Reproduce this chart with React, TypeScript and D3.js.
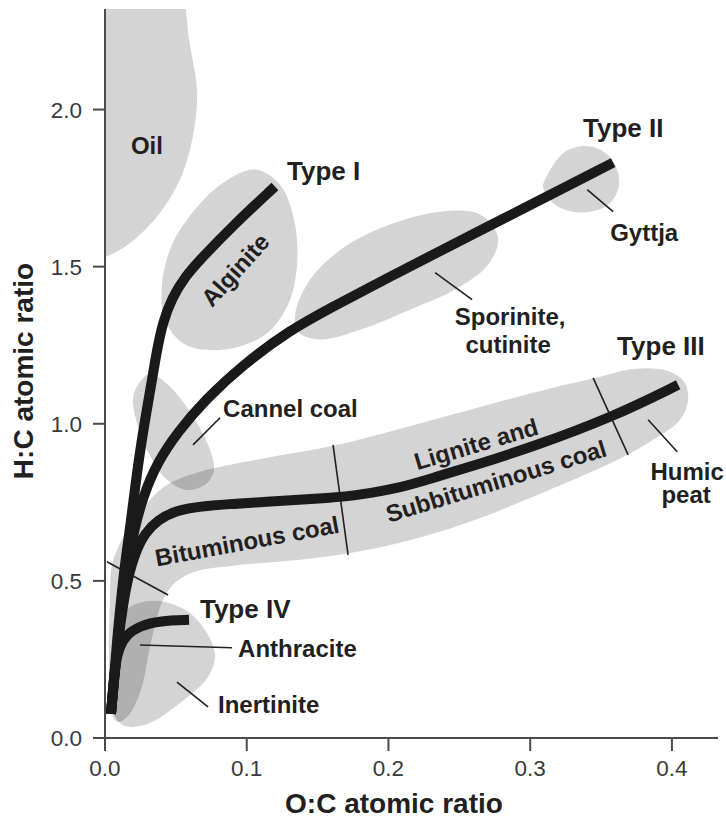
import React from 'react';
import * as d3 from 'd3';

type Pt = [number, number];

// ---- axis ticks ----
const xTicks: number[] = [0, 0.1, 0.2, 0.3, 0.4];
const yTicks: number[] = [0, 0.5, 1.0, 1.5, 2.0];

// ---- kerogen evolution paths (O:C, H:C) ----
const typeI: Pt[] = [
  [0.0042, 0.077], [0.0064, 0.185], [0.0085, 0.312], [0.0113, 0.439], [0.0141, 0.557],
  [0.0176, 0.662], [0.0233, 0.876], [0.0296, 1.048], [0.0332, 1.14], [0.0367, 1.236],
  [0.0409, 1.325], [0.0473, 1.401], [0.0565, 1.468], [0.067, 1.522], [0.0903, 1.631],
  [0.1199, 1.755],
];
const typeII: Pt[] = [
  [0.0042, 0.077], [0.0064, 0.185], [0.0092, 0.312], [0.0127, 0.439], [0.0162, 0.557],
  [0.0205, 0.662], [0.0268, 0.768], [0.0367, 0.876], [0.0515, 0.975], [0.0706, 1.076],
  [0.0974, 1.188], [0.1306, 1.299], [0.1609, 1.373], [0.1941, 1.452], [0.2646, 1.615],
  [0.3585, 1.831],
];
const typeIII: Pt[] = [
  [0.0042, 0.077], [0.0064, 0.185], [0.0092, 0.312], [0.0127, 0.424], [0.0162, 0.51],
  [0.0212, 0.589], [0.0282, 0.653], [0.0374, 0.694], [0.0494, 0.723], [0.067, 0.739],
  [0.1143, 0.752], [0.1609, 0.764], [0.18, 0.774], [0.2082, 0.796], [0.2315, 0.828],
  [0.2646, 0.873], [0.302, 0.927], [0.3585, 1.022], [0.4044, 1.124],
];
const typeIV: Pt[] = [
  [0.0042, 0.077], [0.0056, 0.153], [0.0071, 0.232], [0.0099, 0.287], [0.0148, 0.328],
  [0.0247, 0.357], [0.0388, 0.373], [0.0593, 0.376],
];

// ---- maceral / fuel regions (outlines) ----
const oilRegion: Pt[] = [
  [-0.007, 1.532], [0.0106, 1.554], [0.0318, 1.634], [0.0494, 1.745], [0.06, 1.873],
  [0.065, 2.048], [0.0593, 2.223], [0.0545, 2.37], [0.04, 2.48], [-0.007, 2.48],
];
const alginiteRegion: Pt[] = [
  [0.1059, 1.809], [0.1235, 1.761], [0.1334, 1.65], [0.1355, 1.506], [0.1291, 1.379],
  [0.1129, 1.283], [0.0847, 1.236], [0.0565, 1.252], [0.0423, 1.331], [0.0402, 1.443],
  [0.0473, 1.57], [0.0635, 1.682], [0.0847, 1.771],
];
const sporiniteRegion: Pt[] = [
  [0.1341, 1.347], [0.1447, 1.459], [0.1694, 1.564], [0.2011, 1.634], [0.2364, 1.675],
  [0.2646, 1.666], [0.2773, 1.592], [0.2703, 1.506], [0.247, 1.427], [0.2152, 1.363],
  [0.18, 1.299], [0.1517, 1.268], [0.1362, 1.293],
];
const gyttjaRegion: Pt[] = [
  [0.3105, 1.777], [0.3246, 1.866], [0.3437, 1.882], [0.3578, 1.841], [0.3627, 1.761],
  [0.355, 1.697], [0.3352, 1.672], [0.3176, 1.697], [0.3091, 1.752],
];
const cannelRegion: Pt[] = [
  [0.0233, 1.124], [0.0318, 1.159], [0.0445, 1.124], [0.06, 1.038], [0.0727, 0.933],
  [0.0769, 0.854], [0.0706, 0.806], [0.0565, 0.79], [0.0423, 0.828], [0.0303, 0.911],
  [0.0219, 1.013], [0.0198, 1.083],
];
const coalBand: Pt[] = [
  [0.0035, 0.439], [0.0049, 0.551], [0.012, 0.631], [0.0212, 0.694], [0.0318, 0.758],
  [0.0438, 0.806], [0.067, 0.847], [0.1143, 0.892], [0.1609, 0.93], [0.2315, 1.013],
  [0.302, 1.099], [0.3493, 1.15], [0.374, 1.175], [0.3966, 1.169], [0.4086, 1.134],
  [0.4114, 1.076], [0.4058, 1.013], [0.3846, 0.943], [0.3613, 0.885], [0.302, 0.768],
  [0.2555, 0.685], [0.2082, 0.621], [0.1729, 0.589], [0.1376, 0.567], [0.0903, 0.548],
  [0.0635, 0.529], [0.0501, 0.497], [0.0409, 0.439], [0.0325, 0.306], [0.0254, 0.153],
  [0.0162, 0.07], [0.0092, 0.051], [0.0042, 0.083], [0.0028, 0.248],
];
const inertiniteRegion: Pt[] = [
  [0.0092, 0.36], [0.0176, 0.417], [0.0367, 0.436], [0.0565, 0.408], [0.0706, 0.344],
  [0.0776, 0.264], [0.0727, 0.194], [0.0529, 0.111], [0.0303, 0.045], [0.0141, 0.038],
  [0.0056, 0.083], [0.0049, 0.185], [0.0064, 0.287],
];
const regions: Pt[][] = [
  oilRegion, alginiteRegion, sporiniteRegion, gyttjaRegion,
  cannelRegion, coalBand, inertiniteRegion,
];

// ---- rank boundaries across the coal band ----
const dividers: Pt[][] = [
  [[0.0014, 0.561], [0.0445, 0.455]],
  [[0.1609, 0.933], [0.1715, 0.583]],
  [[0.3444, 1.146], [0.3691, 0.901]],
];

// ---- leader lines ----
const leaders: Pt[][] = [
  [[0.0621, 0.933], [0.0812, 1.019]],
  [[0.3402, 1.745], [0.3585, 1.675]],
  [[0.2329, 1.481], [0.259, 1.395]],
  [[0.3832, 1.013], [0.4037, 0.911]],
  [[0.0247, 0.296], [0.0896, 0.287]],
  [[0.0508, 0.178], [0.0727, 0.099]],
];

// ---- labels ----
type Label = { text: string; at: Pt; anchor: 'start' | 'middle'; big?: boolean; rot?: number; center?: boolean };
const typeLabels: Label[] = [
  { text: 'Type I', at: [0.1284, 1.777], anchor: 'start', big: true },
  { text: 'Type II', at: [0.3373, 1.914], anchor: 'start', big: true },
  { text: 'Type III', at: [0.3613, 1.22], anchor: 'start', big: true },
  { text: 'Type IV', at: [0.067, 0.382], anchor: 'start', big: true },
];
const regionLabels: Label[] = [
  { text: 'Oil', at: [0.0296, 1.857], anchor: 'middle' },
  { text: 'Gyttja', at: [0.3564, 1.583], anchor: 'start' },
  { text: 'Sporinite,', at: [0.2858, 1.315], anchor: 'middle' },
  { text: 'cutinite', at: [0.2844, 1.226], anchor: 'middle' },
  { text: 'Cannel coal', at: [0.0833, 1.022], anchor: 'start' },
  { text: 'Humic', at: [0.4107, 0.822], anchor: 'middle' },
  { text: 'peat', at: [0.41, 0.748], anchor: 'middle' },
  { text: 'Anthracite', at: [0.0939, 0.258], anchor: 'start' },
  { text: 'Inertinite', at: [0.0797, 0.08], anchor: 'start' },
  { text: 'Alginite', at: [0.0918, 1.49], anchor: 'middle', rot: -48, center: true },
  { text: 'Lignite and', at: [0.2618, 0.936], anchor: 'middle', rot: -16.5, center: true },
  { text: 'Subbituminous coal', at: [0.2759, 0.818], anchor: 'middle', rot: -17, center: true },
  { text: 'Bituminous coal', at: [0.1002, 0.627], anchor: 'middle', rot: -10.5, center: true },
];

const FONT = "'Liberation Sans', Arial, Helvetica, sans-serif";
const INK = '#231f20';

export default function App() {
  const W = 726;
  const H = 818;
  const x = d3.scaleLinear().domain([0, 0.4325]).range([105, 718]);
  const y = d3.scaleLinear().domain([0, 2.32]).range([738, 9]);
  const [x0, x1] = x.range();
  const [y0, y1] = y.range();

  const blob = d3.line<Pt>().x(d => x(d[0])).y(d => y(d[1])).curve(d3.curveCatmullRomClosed.alpha(0.5));
  const path = d3.line<Pt>().x(d => x(d[0])).y(d => y(d[1])).curve(d3.curveBasis);
  const seg = d3.line<Pt>().x(d => x(d[0])).y(d => y(d[1]));
  const fmt = d3.format('.1f');

  const curves = [typeIV, typeIII, typeII, typeI];

  return (
    <svg width={W} height={H} style={{ position: 'absolute', left: 0, top: 0, background: '#fff' }} fontFamily={FONT}>
      <defs>
        <clipPath id="plotArea">
          <rect x={x0} y={y1} width={x1 - x0} height={y0 - y1} />
        </clipPath>
      </defs>
      <rect width={W} height={H} fill="#fff" />
      <g clipPath="url(#plotArea)">
        {regions.map((r, i) => (
          <path key={i} d={blob(r) || ''} fill="#000" fillOpacity={0.17} />
        ))}
      </g>
      {dividers.map((d, i) => (
        <path key={'dv' + i} d={seg(d) || ''} stroke={INK} strokeWidth={1.6} fill="none" />
      ))}
      {leaders.map((d, i) => (
        <path key={'ld' + i} d={seg(d) || ''} stroke={INK} strokeWidth={1.6} fill="none" />
      ))}
      {curves.map((c, i) => (
        <path key={'c' + i} d={path(c) || ''} stroke="#1a1a1a" strokeWidth={10} fill="none" strokeLinecap="butt" strokeLinejoin="round" />
      ))}

      {/* axes */}
      <g stroke="#4a4a4a" strokeWidth={2} fill="none">
        <line x1={x0} x2={x0} y1={y1} y2={y0 + 1} />
        <line x1={x0 - 12} x2={x1} y1={y0} y2={y0} />
        {yTicks.map(t => (
          <line key={'yt' + t} x1={x0 - 12} x2={x0} y1={y(t)} y2={y(t)} />
        ))}
        {xTicks.map(t => (
          <line key={'xt' + t} x1={x(t)} x2={x(t)} y1={y0} y2={y0 + 13} />
        ))}
      </g>
      <g fill="#3a3a3a" fontSize={22.5}>
        {yTicks.map(t => (
          <text key={'yl' + t} x={x0 - 23} y={y(t)} dy="0.36em" textAnchor="end">{fmt(t)}</text>
        ))}
        {xTicks.map(t => (
          <text key={'xl' + t} x={x(t)} y={776} textAnchor="middle">{fmt(t)}</text>
        ))}
      </g>
      <text x={394} y={813} textAnchor="middle" fontSize={28} fontWeight="bold" fill={INK}>O:C atomic ratio</text>
      <text transform="translate(33,371) rotate(-90)" textAnchor="middle" fontSize={28} fontWeight="bold" fill={INK}>H:C atomic ratio</text>

      {/* labels */}
      {typeLabels.concat(regionLabels).map((l, i) => {
        const px = x(l.at[0]);
        const py = y(l.at[1]);
        return (
          <text
            key={'lb' + i}
            transform={`translate(${px},${py})${l.rot ? ` rotate(${l.rot})` : ''}`}
            textAnchor={l.anchor}
            dy={l.center ? '0.36em' : undefined}
            fontSize={l.big ? 26 : 24}
            fontWeight="bold"
            fill={INK}
          >
            {l.text}
          </text>
        );
      })}
    </svg>
  );
}
